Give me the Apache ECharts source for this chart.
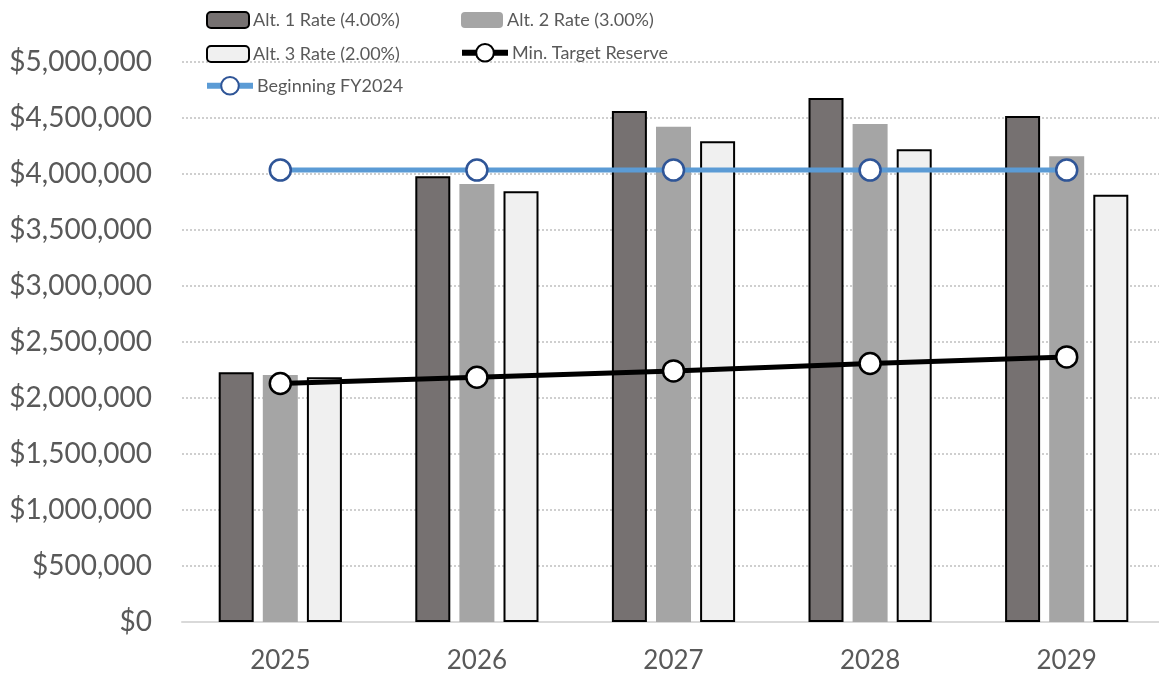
<!DOCTYPE html>
<html>
<head>
<meta charset="utf-8">
<script src="https://cdn.jsdelivr.net/npm/echarts@6/dist/echarts.min.js"></script>
<style>
  html, body { margin: 0; padding: 0; background: #ffffff; overflow: hidden; }
  #chart { width: 1166px; height: 679px; }
</style>
</head>
<body>
<div id="chart"></div>
<script>
// Fiscal years on the category axis
const years = ['2025', '2026', '2027', '2028', '2029'];

// Projected ending reserve balances under each rate alternative
const alt1Rate = [2229000, 3980000, 4562000, 4679000, 4518000];
const alt2Rate = [2205000, 3911000, 4422000, 4446000, 4158000];
const alt3Rate = [2185000, 3846000, 4292000, 4221000, 3815000];

// Reserve benchmarks
const minTargetReserve = [2130000, 2185000, 2242000, 2308000, 2367000];
const beginningFY2024 = [4035000, 4035000, 4035000, 4035000, 4035000];

// Series names (legend text)
const names = [
  'Alt. 1 Rate (4.00%)',
  'Alt. 2 Rate (3.00%)',
  'Alt. 3 Rate (2.00%)',
  'Min. Target Reserve',
  'Beginning FY2024'
];

const FONT = 'Lato, "Open Sans", sans-serif';
const TEXT_COLOR = '#595959';

function money(v) {
  return '$' + v.toLocaleString('en-US');
}

function legendAt(item, left, top, w, h) {
  return {
    data: [item],
    left: left,
    top: top,
    itemWidth: w,
    itemHeight: h,
    itemGap: 4,
    padding: 0,
    selectedMode: false,
    textStyle: { fontFamily: FONT, fontSize: 18, color: TEXT_COLOR, padding: [0, 0, 0, -1] }
  };
}

const chart = echarts.init(document.getElementById('chart'), null, { renderer: 'canvas' });

chart.setOption({
  animation: false,
  backgroundColor: '#ffffff',
  legend: [
    legendAt(names[0], 206, 11, 42, 16),
    legendAt(names[1], 461, 11, 42, 16),
    legendAt(names[2], 206, 45, 42, 16),
    legendAt({ name: names[3], lineStyle: { width: 6 } }, 459, 43, 46, 22),
    legendAt({ name: names[4], lineStyle: { width: 6 } }, 204, 76, 46, 22)
  ],
  grid: {
    left: 182,
    top: 62,
    width: 983,
    height: 560,
    containLabel: false
  },
  xAxis: {
    type: 'category',
    data: years,
    axisTick: { show: false },
    axisLine: { lineStyle: { color: '#D9D9D9', width: 2 } },
    axisLabel: {
      fontFamily: FONT,
      fontSize: 26,
      color: TEXT_COLOR,
      margin: 26
    }
  },
  yAxis: {
    type: 'value',
    min: 0,
    max: 5000000,
    interval: 500000,
    axisLine: { show: false },
    axisTick: { show: false },
    splitLine: {
      lineStyle: { color: '#CFCFCF', type: [2, 2], width: 2 }
    },
    axisLabel: {
      fontFamily: FONT,
      fontSize: 28,
      color: TEXT_COLOR,
      margin: 30,
      formatter: money
    }
  },
  series: [
    {
      name: names[0],
      type: 'bar',
      data: alt1Rate,
      barWidth: 35,
      barGap: '26%',
      itemStyle: { color: '#767171', borderColor: '#000000', borderWidth: 2 },
      z: 2
    },
    {
      name: names[1],
      type: 'bar',
      data: alt2Rate,
      barWidth: 35,
      barGap: '26%',
      itemStyle: { color: '#A5A5A5', borderWidth: 0 },
      z: 2
    },
    {
      name: names[2],
      type: 'bar',
      data: alt3Rate,
      barWidth: 35,
      barGap: '26%',
      itemStyle: { color: '#F0F0F0', borderColor: '#000000', borderWidth: 2 },
      z: 2
    },
    {
      name: names[3],
      type: 'line',
      data: minTargetReserve,
      symbol: 'circle',
      symbolSize: 21,
      showAllSymbol: true,
      lineStyle: { color: '#000000', width: 5 },
      itemStyle: { color: '#FFFFFF', borderColor: '#000000', borderWidth: 2.5 },
      z: 5
    },
    {
      name: names[4],
      type: 'line',
      data: beginningFY2024,
      symbol: 'circle',
      symbolSize: 21,
      showAllSymbol: true,
      lineStyle: { color: '#5B9BD5', width: 5 },
      itemStyle: { color: '#FFFFFF', borderColor: '#2F5597', borderWidth: 2.5 },
      z: 6
    }
  ]
});
</script>
</body>
</html>
